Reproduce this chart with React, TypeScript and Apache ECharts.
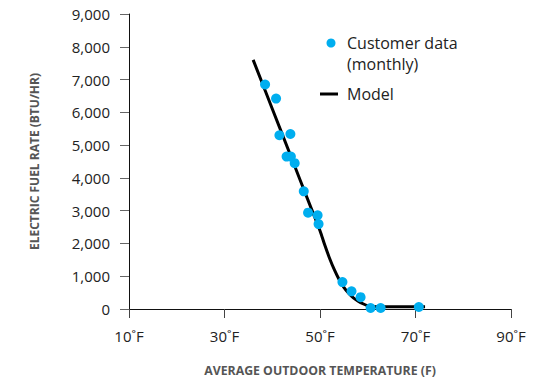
import React, { useEffect, useRef } from "react";
import * as echarts from "echarts";

const dataTemp = [38.5, 40.8, 41.5, 43.8, 43.0, 43.9, 44.7, 46.6, 47.5, 49.5, 49.7, 54.7, 56.6, 58.5, 60.6, 62.7, 70.7];
const dataRate = [6850, 6420, 5300, 5340, 4650, 4650, 4450, 3590, 2940, 2860, 2590, 820, 540, 360, 30, 30, 60];

const modelTemp = [36, 40, 44, 48, 50, 51, 52, 53, 54, 55, 56, 57, 58, 59, 60, 61, 62, 72];
const modelRate = [7600, 6110, 4620, 3130, 2390, 1950, 1550, 1200, 900, 660, 480, 340, 240, 160, 100, 75, 70, 70];

const xTicks = [10, 30, 50, 70, 90];

const FONT = "'Open Sans', 'Noto Sans', sans-serif";

export default function App() {
  const ref = useRef<HTMLDivElement>(null);
  useEffect(() => {
    if (!ref.current) return;
    const chart = echarts.init(ref.current, undefined, { renderer: "svg" });
    chart.setOption({
      animation: false,
      textStyle: { fontFamily: FONT },
      grid: { left: 129, right: 44, top: 14, bottom: 72 },
      xAxis: {
        type: "value",
        min: 10,
        max: 90,
        splitLine: { show: false },
        axisLine: { lineStyle: { color: "#111", width: 1 } },
        axisTick: { customValues: xTicks, length: 9, lineStyle: { color: "#444" } },
        axisLabel: {
          customValues: xTicks,
          formatter: (v: number) => `${v}˚F`,
          color: "#222",
          fontSize: 15,
          margin: 19,
          fontFamily: FONT,
        },
        name: "AVERAGE OUTDOOR TEMPERATURE (F)",
        nameLocation: "middle",
        nameGap: 55,
        nameTextStyle: { color: "#555", fontSize: 12.3, fontWeight: "bold", fontFamily: FONT },
      },
      yAxis: {
        type: "value",
        min: 0,
        max: 9000,
        interval: 1000,
        splitLine: { show: false },
        axisLine: { show: true, lineStyle: { color: "#111", width: 1 } },
        axisTick: { show: true, length: 9, lineStyle: { color: "#666" } },
        axisLabel: { color: "#222", fontSize: 15, margin: 19, fontFamily: FONT },
        name: "ELECTRIC FUEL RATE (BTU/HR)",
        nameLocation: "middle",
        nameGap: 89,
        nameTextStyle: { color: "#555", fontSize: 12, fontWeight: "bold", fontFamily: FONT },
      },
      series: [
        {
          name: "Model",
          type: "line",
          data: modelTemp.map((t, i) => [t, modelRate[i]]),
          showSymbol: false,
          smooth: 0.3,
          lineStyle: { color: "#000", width: 3 },
          z: 2,
        },
        {
          name: "Customer data (monthly)",
          type: "scatter",
          data: dataTemp.map((t, i) => [t, dataRate[i]]),
          symbolSize: 10,
          itemStyle: { color: "#00aeef", opacity: 1 },
          z: 3,
        },
      ],
      graphic: [
        { type: "circle", shape: { cx: 331, cy: 43, r: 4.5 }, style: { fill: "#00aeef" } },
        {
          type: "text",
          x: 347,
          y: 43,
          style: { text: "Customer data", fontSize: 16, fill: "#222", fontFamily: FONT, verticalAlign: "middle" },
        },
        {
          type: "text",
          x: 347,
          y: 64,
          style: { text: "(monthly)", fontSize: 16, fill: "#222", fontFamily: FONT, verticalAlign: "middle" },
        },
        { type: "line", shape: { x1: 320, y1: 94, x2: 338, y2: 94 }, style: { stroke: "#000", lineWidth: 3 } },
        {
          type: "text",
          x: 347,
          y: 94,
          style: { text: "Model", fontSize: 16, fill: "#222", fontFamily: FONT, verticalAlign: "middle" },
        },
      ],
    });
    return () => chart.dispose();
  }, []);
  return <div ref={ref} style={{ width: 555, height: 381, position: "absolute", left: 0, top: 0 }} />;
}
